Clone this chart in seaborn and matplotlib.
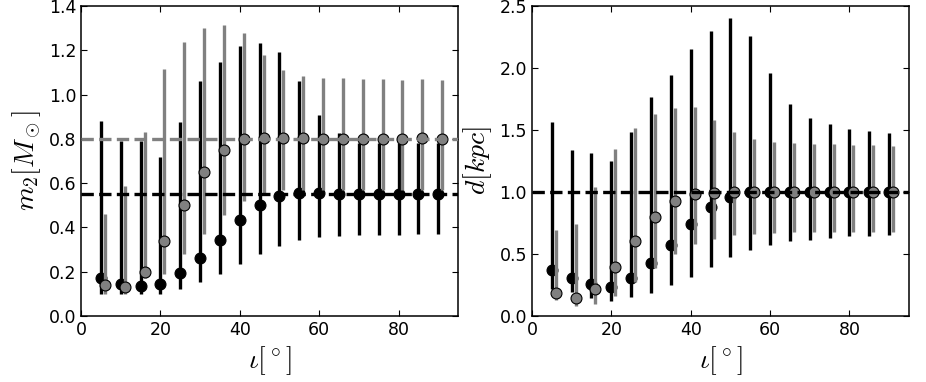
import numpy as np
import pandas as pd
import matplotlib
matplotlib.use("Agg")
import matplotlib.pyplot as plt
import seaborn as sns

# inclination grid (grey series shifted by 1 deg for readability)
inc_black = [5, 10, 15, 20, 25, 30, 35, 40, 45, 50, 55, 60, 65, 70, 75, 80, 85, 90]
inc_gray = [6, 11, 16, 21, 26, 31, 36, 41, 46, 51, 56, 61, 66, 71, 76, 81, 86, 91]

# companion mass [Msun]
m2_black = [0.171, 0.142, 0.135, 0.142, 0.192, 0.262, 0.341, 0.433, 0.501, 0.540,
            0.556, 0.556, 0.553, 0.550, 0.550, 0.550, 0.550, 0.550]
m2_black_hi = [0.883, 0.790, 0.790, 0.719, 0.876, 1.063, 1.147, 1.219, 1.234, 1.193,
               1.060, 0.908, 0.825, 0.783, 0.783, 0.783, 0.783, 0.783]
m2_black_lo = [0.100, 0.100, 0.100, 0.101, 0.120, 0.151, 0.189, 0.235, 0.280, 0.315,
               0.344, 0.356, 0.362, 0.366, 0.366, 0.366, 0.371, 0.371]
m2_gray = [0.138, 0.129, 0.200, 0.338, 0.503, 0.652, 0.752, 0.798, 0.802, 0.802,
           0.802, 0.798, 0.798, 0.798, 0.798, 0.798, 0.802, 0.798]
m2_gray_hi = [0.459, 0.586, 0.830, 1.117, 1.238, 1.302, 1.315, 1.279, 1.181, 1.113,
              1.082, 1.073, 1.073, 1.070, 1.070, 1.067, 1.070, 1.064]
m2_gray_lo = [0.100, 0.100, 0.170, 0.189, 0.280, 0.371, 0.454, 0.518, 0.550, 0.568,
              0.571, 0.571, 0.571, 0.571, 0.571, 0.571, 0.571, 0.571]

# distance [kpc]
d_black = [0.370, 0.308, 0.257, 0.230, 0.308, 0.430, 0.573, 0.743, 0.878, 0.959,
           1.0, 1.0, 1.0, 1.0, 1.0, 1.0, 1.0, 1.0]
d_black_hi = [1.562, 1.335, 1.314, 1.249, 1.486, 1.768, 1.946, 2.154, 2.303, 2.405,
              2.262, 1.962, 1.714, 1.600, 1.546, 1.505, 1.489, 1.478]
d_black_lo = [0.214, 0.195, 0.143, 0.122, 0.149, 0.186, 0.249, 0.316, 0.397, 0.473,
              0.532, 0.573, 0.603, 0.614, 0.630, 0.643, 0.646, 0.649]
d_gray = [0.186, 0.141, 0.214, 0.392, 0.608, 0.795, 0.924, 0.986, 0.990, 1.0,
          1.0, 1.0, 1.0, 1.0, 1.0, 1.0, 1.0, 1.0]
d_gray_hi = [0.697, 0.743, 1.041, 1.343, 1.516, 1.632, 1.681, 1.689, 1.580, 1.481,
             1.424, 1.403, 1.392, 1.386, 1.384, 1.378, 1.378, 1.373]
d_gray_lo = [0.127, 0.081, 0.095, 0.162, 0.270, 0.386, 0.500, 0.581, 0.622, 0.649,
             0.662, 0.670, 0.676, 0.676, 0.676, 0.676, 0.681, 0.676]

# true values (dashed reference lines)
m2_true_black = 0.55
m2_true_gray = 0.80
d_true = 1.0

GRAY = '#808080'

sns.set_style('ticks', {
    'xtick.direction': 'in', 'ytick.direction': 'in',
    'xtick.top': True, 'ytick.right': True,
    'axes.edgecolor': 'black',
    'xtick.color': 'black', 'ytick.color': 'black',
    'text.color': 'black', 'axes.labelcolor': 'black',
})
plt.rcParams['font.family'] = ['DejaVu Sans']
plt.rcParams['mathtext.fontset'] = 'cm'
plt.rcParams['xtick.labelsize'] = 12.5
plt.rcParams['ytick.labelsize'] = 12.5
plt.rcParams['xtick.major.size'] = 4
plt.rcParams['ytick.major.size'] = 4
plt.rcParams['axes.linewidth'] = 1.1


def panel(ax, y_b, lo_b, hi_b, y_g, lo_g, hi_g, hlines):
    df_b = pd.DataFrame({'inc': inc_black, 'y': y_b, 'lo': lo_b, 'hi': hi_b})
    df_g = pd.DataFrame({'inc': inc_gray, 'y': y_g, 'lo': lo_g, 'hi': hi_g})

    ax.vlines(df_b['inc'], df_b['lo'], df_b['hi'], colors='black', lw=2.4, zorder=2)
    sns.scatterplot(data=df_b, x='inc', y='y', color='black', s=62,
                    edgecolor='black', linewidth=0.8, ax=ax, zorder=3)
    ax.vlines(df_g['inc'], df_g['lo'], df_g['hi'], colors=GRAY, lw=2.4, zorder=4)
    sns.scatterplot(data=df_g, x='inc', y='y', color=GRAY, s=62,
                    edgecolor='black', linewidth=0.8, ax=ax, zorder=5)
    for val, col in hlines:
        ax.axhline(val, color=col, ls='--', lw=2.4, zorder=6)

    ax.set_xlim(0, 95)
    ax.set_xticks([0, 20, 40, 60, 80])
    ax.set_xlabel(r'$\iota[^\circ]$', fontsize=20)


fig, axes = plt.subplots(1, 2, figsize=(9.26, 3.82), dpi=100)
fig.subplots_adjust(left=0.0875, right=0.9816, bottom=0.173, top=0.984, wspace=0.196)

panel(axes[0], m2_black, m2_black_lo, m2_black_hi, m2_gray, m2_gray_lo, m2_gray_hi,
      [(m2_true_gray, GRAY), (m2_true_black, 'black')])
axes[0].set_ylim(0, 1.4)
axes[0].set_yticks(np.arange(0, 1.41, 0.2))
axes[0].set_ylabel(r'$m_2[M_\odot]$', fontsize=20)

panel(axes[1], d_black, d_black_lo, d_black_hi, d_gray, d_gray_lo, d_gray_hi,
      [(d_true, 'black')])
axes[1].set_ylim(0, 2.5)
axes[1].set_yticks(np.arange(0, 2.51, 0.5))
axes[1].set_ylabel(r'$d[kpc]$', fontsize=20)

for ax in axes:
    ax.yaxis.set_major_formatter(matplotlib.ticker.FormatStrFormatter('%.1f'))

fig.savefig('out.png', dpi=100)
